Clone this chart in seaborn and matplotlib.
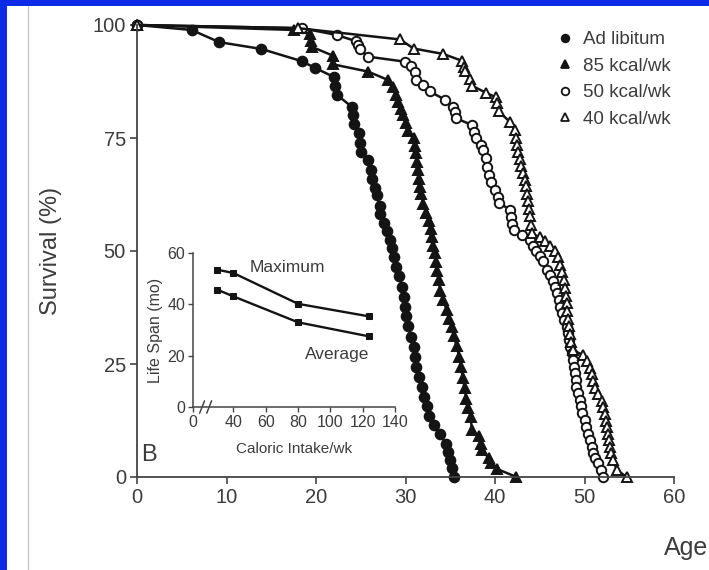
import matplotlib
matplotlib.use("Agg")
import matplotlib.pyplot as plt
import seaborn as sns
import pandas as pd
from matplotlib.lines import Line2D
from matplotlib.patches import Rectangle

# survival curves (age in months, survival %)
age_adlib = [0, 6.1, 9.2, 13.9, 18.4, 19.9, 22.0, 22.1, 22.3, 24.0, 24.1, 24.3, 24.8, 24.9, 25.0,
             25.8, 26.1, 26.3, 26.6, 26.8, 27.1, 27.2, 27.6, 27.9, 28.3, 28.5, 28.7, 28.9, 29.3,
             29.6, 29.8, 29.9, 30.1, 30.3, 30.6, 30.9, 31.1, 31.2, 31.5, 31.8, 32.1, 32.4, 32.6,
             33.2, 33.8, 34.5, 34.8, 35.0, 35.2, 35.4]
surv_adlib = [100, 98.9, 96.2, 94.7, 92.0, 90.5, 88.5, 86.4, 84.6, 81.9, 80.0, 78.2, 76.0, 74.0, 72.0,
              70.1, 68.0, 66.0, 64.0, 62.4, 60.0, 58.1, 56.2, 54.4, 52.4, 50.6, 48.6, 46.5, 44.4,
              42.1, 39.8, 37.7, 35.6, 33.3, 31.0, 28.8, 26.6, 24.4, 22.2, 20.0, 17.8, 15.6, 13.5,
              11.5, 9.6, 7.4, 5.5, 3.8, 2.0, 0.0]

age_85 = [0, 17.5, 19.3, 19.4, 19.5, 21.9, 21.9, 25.8, 28.1, 28.6, 28.9, 29.2, 29.5, 29.7, 30.0,
          30.3, 30.9, 31.1, 31.2, 31.3, 31.4, 31.5, 31.6, 31.7, 32.0, 32.3, 32.6, 32.8, 33.0, 33.1,
          33.3, 33.4, 33.5, 33.7, 33.9, 34.2, 34.6, 34.9, 35.2, 35.4, 35.7, 36.0, 36.2, 36.4, 36.6,
          36.8, 37.0, 37.3, 37.4, 38.2, 38.4, 38.5, 39.3, 39.6, 40.2, 42.4]
surv_85 = [100, 98.9, 98.0, 96.5, 95.2, 93.2, 91.3, 89.7, 87.8, 86.2, 84.5, 83.0, 81.5, 80.0, 78.3,
           76.6, 75.0, 73.3, 71.6, 69.8, 68.0, 66.0, 64.2, 62.6, 60.4, 58.5, 56.7, 54.8, 53.0, 51.2,
           49.5, 47.6, 45.6, 43.5, 41.2, 39.2, 37.0, 35.0, 33.2, 31.2, 29.0, 26.6, 24.4, 22.0, 19.6,
           17.2, 15.2, 13.2, 10.4, 9.0, 7.4, 6.0, 4.2, 3.0, 1.8, 0.0]

age_50 = [0, 18.4, 22.3, 24.5, 24.7, 24.9, 25.8, 29.9, 30.6, 31.1, 31.2, 32.0, 32.7, 34.4, 35.3,
          35.5, 35.6, 37.4, 37.7, 37.9, 38.4, 38.7, 39.0, 39.1, 39.3, 39.6, 40.0, 40.3, 40.5, 41.7,
          41.8, 41.9, 42.1, 43.0, 43.9, 44.3, 44.6, 45.0, 45.4, 45.8, 46.2, 46.5, 46.7, 46.9, 47.1,
          47.3, 47.5, 47.7, 48.0, 48.2, 48.3, 48.4, 48.6, 48.7, 48.8, 48.9, 49.0, 49.1, 49.3, 49.5,
          49.6, 49.7, 50.0, 50.2, 50.4, 50.6, 50.8, 50.9, 51.2, 51.5, 51.8, 52.1]
surv_50 = [100, 99.3, 97.8, 96.4, 95.6, 94.7, 93.0, 91.9, 91.0, 89.7, 87.9, 86.8, 85.3, 83.5, 81.9,
           80.7, 79.4, 77.9, 76.4, 74.9, 73.5, 72.3, 70.5, 68.6, 66.8, 65.2, 63.5, 62.0, 60.6, 59.1,
           57.5, 56.0, 54.6, 53.6, 52.4, 51.2, 50.1, 48.9, 47.8, 45.8, 44.7, 43.4, 42.0, 40.6, 39.1,
           37.7, 36.2, 34.7, 33.2, 31.8, 30.3, 28.8, 27.4, 25.9, 24.4, 22.9, 21.5, 20.0, 18.5, 17.0,
           15.6, 14.1, 12.6, 11.1, 9.6, 8.2, 6.7, 5.3, 4.2, 3.0, 1.5, 0.0]

age_40 = [0, 18.0, 29.4, 30.9, 34.2, 36.3, 36.5, 36.6, 37.2, 37.4, 39.0, 40.1, 40.2, 40.4, 41.7,
          42.2, 42.3, 42.5, 42.6, 42.8, 42.9, 43.1, 43.3, 43.5, 43.6, 43.7, 43.8, 43.9, 44.0, 44.1,
          45.0, 45.6, 46.2, 46.7, 47.0, 47.3, 47.5, 47.7, 47.8, 47.9, 48.0, 48.1, 48.2, 48.3, 48.4,
          48.5, 48.7, 49.8, 50.3, 50.6, 50.8, 50.9, 51.2, 51.5, 51.9, 52.1, 52.3, 52.4, 52.5, 52.6,
          52.7, 52.8, 53.0, 53.2, 53.6, 54.7]
surv_40 = [100, 99.3, 96.8, 94.8, 93.6, 92.1, 90.8, 89.8, 88.0, 86.6, 85.0, 84.0, 82.8, 80.9, 78.5,
           76.7, 75.0, 73.4, 71.9, 70.4, 68.9, 67.3, 65.8, 64.3, 62.7, 61.0, 59.4, 57.7, 55.8, 53.9,
           53.0, 52.2, 51.2, 50.0, 48.6, 47.0, 45.3, 43.6, 41.8, 40.1, 38.4, 36.7, 35.0, 33.3, 31.6,
           29.9, 28.1, 27.0, 25.6, 24.2, 22.7, 21.3, 19.8, 18.4, 16.8, 15.4, 14.0, 12.5, 11.1, 9.6,
           8.2, 6.7, 5.3, 3.8, 1.6, 0.0]

labels = ["Ad libitum", "85 kcal/wk", "50 kcal/wk", "40 kcal/wk"]

# inset: life span vs caloric intake
intake = [30, 40, 80, 124]
life_max = [53.5, 52.2, 40.2, 35.3]
life_avg = [45.7, 43.1, 33.0, 27.5]

INK = "#141414"
TXT = "#3c3c3c"

sns.set_theme(style="white")
plt.rcParams["font.family"] = ["Liberation Sans", "DejaVu Sans"]

fig = plt.figure(figsize=(7.09, 5.70), dpi=100)
fig.patch.set_facecolor("#0a2ce6")
fig.add_artist(Rectangle((7 / 709, 0), 1, 1 - 6 / 570, transform=fig.transFigure,
                         facecolor="white", edgecolor="none", zorder=0))
fig.add_artist(Line2D([28 / 709, 28 / 709], [0, 1 - 6 / 570], transform=fig.transFigure,
                      color="#c8c8c8", lw=1.0))

ax = fig.add_axes([137 / 709, 1 - 477 / 570, 537 / 709, 452 / 570])
ax.set_facecolor("none")

series = [
    (age_adlib, surv_adlib, "o", INK, 7.0),
    (age_85, surv_85, "^", INK, 7.0),
    (age_50, surv_50, "o", "white", 6.8),
    (age_40, surv_40, "^", "white", 7.0),
]
for lab, (a, s, m, fc, ms) in zip(labels, series):
    df = pd.DataFrame({"age": a, "survival": s})
    sns.lineplot(data=df, x="age", y="survival", ax=ax, sort=False, estimator=None,
                 color=INK, lw=1.8, marker=m, markersize=ms, markerfacecolor=fc,
                 markeredgecolor=INK, markeredgewidth=1.4, clip_on=False)

ax.set_xlim(0, 60)
ax.set_ylim(0, 100)
ax.set_xticks(range(0, 61, 10))
ax.set_yticks([0, 25, 50, 75, 100])
sns.despine(ax=ax)
for sp in ["left", "bottom"]:
    ax.spines[sp].set_color("#444444")
    ax.spines[sp].set_linewidth(1.3)
ax.tick_params(axis="both", direction="out", length=5, width=1.2, color="#444444",
               labelsize=14.5, labelcolor=TXT, pad=3, bottom=True, left=True)
ax.set_xlabel("Age", fontsize=18, color=TXT)
ax.xaxis.set_label_coords(1.022, -0.13)
ax.set_ylabel("Survival (%)", fontsize=17, color=TXT)
ax.yaxis.set_label_coords(-0.14, 0.5)

handles = [Line2D([], [], ls="none", marker=m, markersize=5.5, markerfacecolor=fc,
                  markeredgecolor=INK, markeredgewidth=1.3)
           for (_, _, m, fc, _) in series]
leg = ax.legend(handles, labels, loc="upper right", bbox_to_anchor=(1.025, 1.024), frameon=False,
                fontsize=13.5, handlelength=0.8, handletextpad=0.55, labelspacing=0.5,
                labelcolor=TXT)

ax.text(0.008, 0.035, "B", transform=ax.transAxes, fontsize=17, color=TXT)

# inset
ins = fig.add_axes([193 / 709, 1 - 407 / 570, 202 / 709, 154 / 570])
ins.set_facecolor("none")
inset_df = pd.DataFrame({"intake": intake * 2, "life": life_max + life_avg,
                         "kind": ["Maximum"] * 4 + ["Average"] * 4})
sns.lineplot(data=inset_df, x="intake", y="life", units="kind", estimator=None, sort=False,
             ax=ins, color=INK, lw=1.7, marker="s", markersize=5, markeredgecolor=INK)
ins.set_xlim(15, 140)
ins.set_ylim(0, 60)
ins.set_xticks([15, 40, 60, 80, 100, 120, 140])
ins.set_xticklabels(["0", "40", "60", "80", "100", "120", "140"])
ins.set_yticks([0, 20, 40, 60])
sns.despine(ax=ins)
for sp in ["left", "bottom"]:
    ins.spines[sp].set_color("#444444")
    ins.spines[sp].set_linewidth(1.1)
ins.tick_params(axis="both", direction="out", length=3.5, width=1.0, color="#444444",
                labelsize=11.5, labelcolor=TXT, pad=2, bottom=True, left=True)
ins.set_xlabel("Caloric Intake/wk", fontsize=11, color=TXT, labelpad=9)
ins.set_ylabel("Life Span (mo)", fontsize=11.5, color=TXT, labelpad=3)
ins.text(50, 54.2, "Maximum", fontsize=12.5, color=TXT, va="center")
ins.text(84, 20.6, "Average", fontsize=12.5, color=TXT, va="center")
# axis break marks
for xb in (0.045, 0.08):
    ins.plot([xb - 0.012, xb + 0.012], [-0.04, 0.04], transform=ins.transAxes,
             color="#444444", lw=1.1, clip_on=False)

fig.savefig("out.png", dpi=100, facecolor=fig.get_facecolor())
